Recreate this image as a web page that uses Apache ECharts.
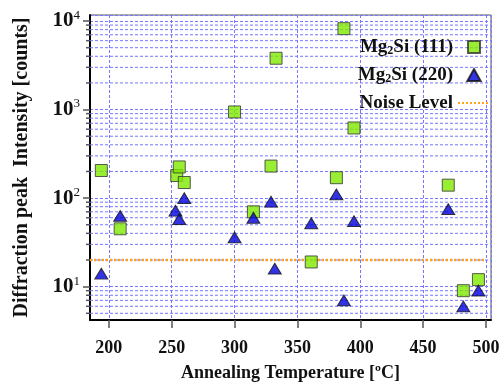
<!DOCTYPE html>
<html>
<head>
<meta charset="utf-8">
<script src="https://cdn.jsdelivr.net/npm/echarts@6/dist/echarts.min.js"></script>
<style>
  html, body { margin: 0; padding: 0; background: #fff; }
  #chart { width: 499px; height: 382px; }
</style>
</head>
<body>
<div id="chart"></div>
<script>
"use strict";

// Mg2Si (111) peak: [temperature, counts]
const mg111 = [
    [194, 205], [209, 45], [254, 180], [256, 225], [260, 150],
    [300, 940], [315, 70], [329, 230], [333, 3800], [361, 19],
    [381, 170], [387, 8200], [395, 620], [470, 140], [482, 9], [494, 12]
];
// Mg2Si (220) peak: [temperature, counts]
const mg220 = [
    [194, 14], [209, 63], [253, 72], [256, 58], [260, 100],
    [300, 36], [315, 60], [329, 91], [332, 16], [361, 52],
    [381, 110], [387, 7], [395, 55], [470, 75], [482, 6], [494, 9]
];
const noiseLevel = 20;
const noiseRange = [185, 500];

const xMin = 185, xMax = 504;
const yMin = 4.2, yMax = 11700;

// minor log grid lines (2..9 of each decade) inside the axis range
const minorLines = [];
for (let d = 1; d <= 1000; d *= 10) {
    for (let k = 2; k <= 9; k++) {
        const v = k * d;
        if (v > yMin && v < yMax) minorLines.push(v);
    }
}

const serif = 'Liberation Serif';
const gridBlue = '#7676ff';
const squarePath = 'path://M0,0L10,0L10,10L0,10Z';
const trianglePath = 'path://M5,0L10,9L0,9Z';

const chart = echarts.init(document.getElementById('chart'));

const option = {
    animation: false,
    grid: {
        left: 90, right: 8, top: 15, bottom: 62,
        outerBoundsMode: 'none',
        show: true, borderColor: '#555', borderWidth: 1
    },
    legend: {
        orient: 'vertical',
        right: 3, top: 32,
        align: 'right',
        itemWidth: 32, itemHeight: 12,
        itemGap: 8,
        data: [
            { name: 'Mg2Si (111)', icon: squarePath },
            { name: 'Mg2Si (220)', icon: trianglePath },
            { name: 'Noise Level', itemStyle: { color: 'rgba(0,0,0,0)', borderColor: 'rgba(0,0,0,0)', borderWidth: 0 } }
        ],
        formatter: name => name.replace('Mg2Si', 'Mg{s|2}Si'),
        textStyle: {
            fontFamily: serif, fontWeight: 'bold', fontSize: 19, color: '#111',
            lineHeight: 20,
            rich: {
                s: { fontFamily: serif, fontWeight: 'bold', fontSize: 12, color: '#111', verticalAlign: 'bottom', padding: [9, 0, 0, 0] }
            }
        }
    },
    xAxis: {
        type: 'value',
        min: xMin, max: xMax,
        name: 'Annealing Temperature [ºC]',
        nameLocation: 'middle', nameGap: 44,
        nameTextStyle: { fontFamily: serif, fontWeight: 'bold', fontSize: 18, color: '#111' },
        axisLine: { lineStyle: { color: '#000', width: 2 } },
        axisTick: { inside: false, length: 8, lineStyle: { color: '#555', width: 1.5 } },
        axisLabel: {
            margin: 19, showMinLabel: false, showMaxLabel: false,
            fontFamily: serif, fontWeight: 'bold', fontSize: 18, color: '#111'
        },
        splitLine: { show: true, lineStyle: { color: gridBlue, type: [3, 2], width: 1 } }
    },
    yAxis: {
        type: 'log',
        logBase: 10,
        min: yMin, max: yMax,
        name: 'Diffraction peak  Intensity [counts]',
        nameLocation: 'middle', nameGap: 58,
        nameTextStyle: { fontFamily: serif, fontWeight: 'bold', fontSize: 20, color: '#111' },
        axisLine: { lineStyle: { color: '#000', width: 2 } },
        axisTick: { length: 7, lineStyle: { color: '#555', width: 1.5 } },
        axisLabel: {
            margin: 10, showMinLabel: false, showMaxLabel: false,
            formatter: v => '10{p|' + Math.round(Math.log10(v)) + '}',
            fontFamily: serif, fontWeight: 'bold', fontSize: 21, color: '#111',
            rich: {
                p: { fontFamily: serif, fontWeight: 'normal', fontSize: 13, color: '#111', verticalAlign: 'top', padding: [0, 0, 11, 0] }
            }
        },
        splitLine: { show: true, lineStyle: { color: gridBlue, type: [3, 2], width: 1 } }
    },
    series: [
        {
            type: 'custom',
            silent: true,
            clip: false,
            z: 1,
            data: minorLines.map(v => [xMin, v]),
            encode: { x: 0, y: 1 },
            renderItem: (params, api) => {
                const y = api.coord([xMin, api.value(1)])[1];
                const cs = params.coordSys;
                return {
                    type: 'group',
                    children: [
                        { type: 'line', shape: { x1: cs.x, y1: y, x2: cs.x + cs.width, y2: y },
                          style: { stroke: gridBlue, lineWidth: 1, lineDash: [3, 2] } },
                        { type: 'line', shape: { x1: cs.x - 4, y1: y, x2: cs.x, y2: y },
                          style: { stroke: '#555', lineWidth: 1.5 } }
                    ]
                };
            }
        },
        {
            name: 'Noise Level',
            type: 'line',
            symbol: 'circle',
            showSymbol: false,
            z: 3,
            data: noiseRange.map(x => [x, noiseLevel]),
            lineStyle: { color: '#ffa31a', width: 2.5, type: [2, 2] }
        },
        {
            name: 'Mg2Si (111)',
            type: 'scatter',
            symbol: squarePath,
            symbolKeepAspect: true,
            symbolSize: 12,
            z: 5,
            data: mg111,
            itemStyle: { color: '#80e800', borderColor: '#333', borderWidth: 1 }
        },
        {
            name: 'Mg2Si (220)',
            type: 'scatter',
            symbol: trianglePath,
            symbolKeepAspect: true,
            symbolSize: [13, 12],
            z: 5,
            data: mg220,
            itemStyle: { color: '#0000dd', borderColor: '#111', borderWidth: 1 }
        }
    ]
};

option && chart.setOption(option);
</script>
</body>
</html>
